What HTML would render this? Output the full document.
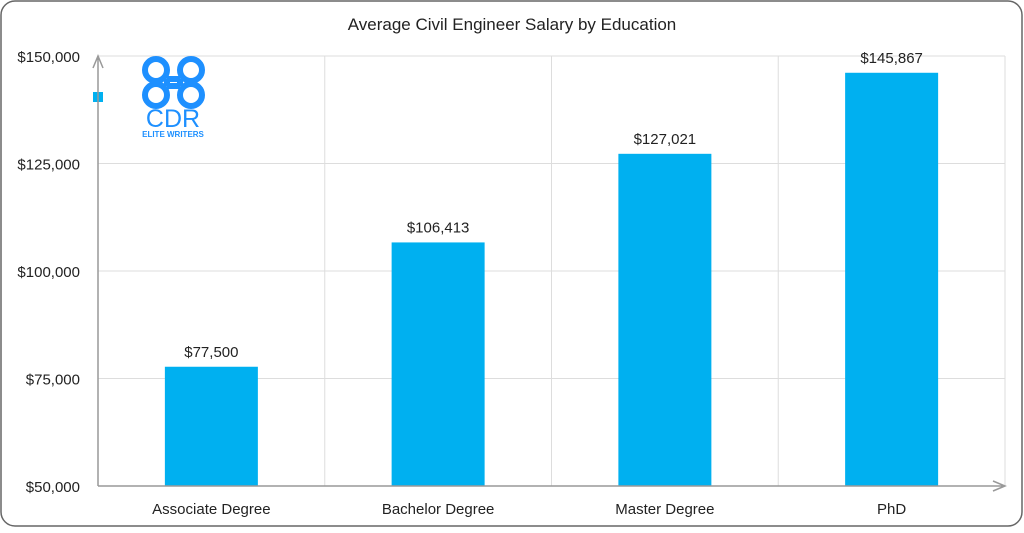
<!DOCTYPE html>
<html><head><meta charset="utf-8"><style>
body{margin:0;background:#fff;font-family:"Liberation Sans",sans-serif;}
svg text{font-family:"Liberation Sans",sans-serif;}
</style></head><body>
<svg id="chart" width="1024" height="528">
<rect x="1" y="1" width="1021" height="525" rx="14" fill="#fff" stroke="#666" stroke-width="1.5"/>
<text x="512" y="30" text-anchor="middle" font-size="17" fill="#222">Average Civil Engineer Salary by Education</text>
<g id="grid"></g><g id="bars"></g><g id="labels"></g>
<g fill="none" stroke="#1e90ff" stroke-width="6">
<circle cx="156" cy="70" r="11"/><circle cx="191" cy="70" r="11"/>
<circle cx="156" cy="95" r="11"/><circle cx="191" cy="95" r="11"/>
<line x1="167" y1="79" x2="180" y2="79"/><line x1="167" y1="86" x2="180" y2="86"/>
<line x1="167" y1="79" x2="167" y2="86"/><line x1="180" y1="79" x2="180" y2="86"/>
</g>
<text x="173" y="127" text-anchor="middle" font-size="25" fill="#1e90ff">CDR</text>
<text x="173" y="137" text-anchor="middle" font-size="8" fill="#1e90ff" font-weight="bold">ELITE WRITERS</text>
<rect x="93" y="92" width="10" height="10" fill="#00b0f0"/>
</svg>
<script>
const categories=["Associate Degree","Bachelor Degree","Master Degree","PhD"];
const values=[77500,106413,127021,145867];
const yTicks=[50000,75000,100000,125000,150000];
const svg=document.getElementById('chart');
const NS='http://www.w3.org/2000/svg';
const x0=98,x1=1005,y0=486,y1=56,yMin=50000,yMax=150000;
const bw=(x1-x0)/categories.length;
const y=v=>y0-(v-yMin)/(yMax-yMin)*(y0-y1);
const xc=i=>x0+bw*(i+0.5);
const fmt=v=>'$'+v.toLocaleString('en-US');
function mk(t,a,p){const e=document.createElementNS(NS,t);for(const k in a)e.setAttribute(k,a[k]);(p||svg).appendChild(e);return e;}
const grid=document.getElementById('grid');
yTicks.forEach(t=>{
 if(t>yMin){const l=mk('line',{x1:x0,x2:x1,y1:y(t),y2:y(t),stroke:'#ddd'},grid);
 
 }
 const tx=mk('text',{x:80,y:y(t)+6,'text-anchor':'end','font-size':15,fill:'#222'});
 tx.textContent=fmt(t);
 
 
});
for(let i=1;i<=categories.length;i++){
 const l=mk('line',{x1:x0+bw*i,x2:x0+bw*i,y1:y1,y2:y0,stroke:'#ddd'},grid);
 
 
}
const ax=mk('path',{d:`M${x0} ${y0}V${y1} M${x0-5} ${y1+12}L${x0} ${y1}L${x0+5} ${y1+12} M${x0} ${y0}H${x1} M${x1-12} ${y0-5}L${x1} ${y0}L${x1-12} ${y0+5}`,stroke:'#999','stroke-width':1.5,fill:'none'});


const bg=document.getElementById('bars');
categories.forEach((c,i)=>{
 const w=93;
 const b=mk('rect',{x:xc(i)-w/2,y:y(values[i])-1,width:w,height:y0-y(values[i])+1,fill:'#00b0f0'},bg);
 
 
 const v=mk('text',{x:xc(i),y:y(values[i])-11,'text-anchor':'middle','font-size':15,fill:'#222'});
 v.textContent=fmt(values[i]);
 
 
 const cl=mk('text',{x:xc(i),y:514,'text-anchor':'middle','font-size':15,fill:'#222'});
 cl.textContent=c;
 
 
});
</script>
</body></html>
